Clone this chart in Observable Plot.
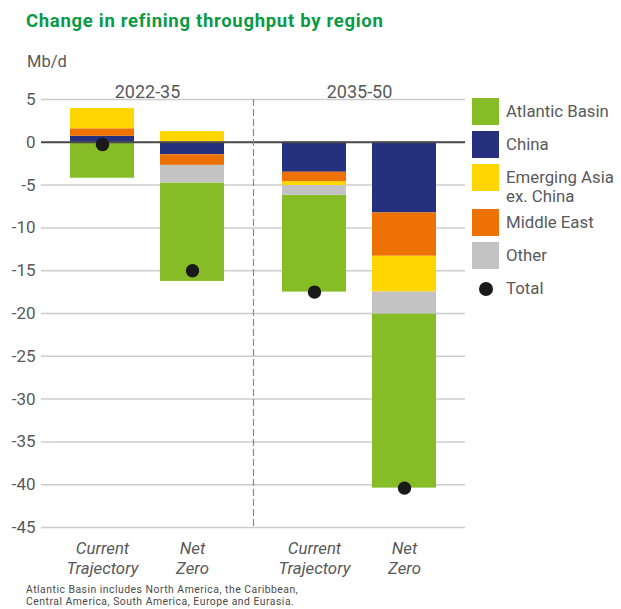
<!DOCTYPE html>
<html>
<head>
<meta charset="utf-8">
<script src="https://cdn.jsdelivr.net/npm/d3@7"></script>
<script src="https://cdn.jsdelivr.net/npm/@observablehq/plot@0.6"></script>
<style>
  html, body { margin: 0; padding: 0; background: #fff; }
  #wrap { position: relative; width: 621px; height: 609px; overflow: hidden; font-family: Roboto, "Noto Sans", sans-serif; color: #58595b; }
  #title { position: absolute; left: 26px; top: 10.5px; font: 700 18.5px Roboto, sans-serif; letter-spacing: 0.7px; line-height: 20px; color: #0a9a46; white-space: nowrap; }
  #unit { position: absolute; left: 27px; top: 52px; font: 400 16.5px Roboto, sans-serif; line-height: 20px; color: #58595b; }
  #chart { position: absolute; left: 0; top: 70px; }
  #legend { position: absolute; left: 472px; top: 0; width: 160px; }
  .lg-item { position: absolute; left: 0; display: flex; align-items: flex-start; white-space: nowrap; }
  .lg-sw { width: 27px; height: 27px; flex: none; }
  .lg-dot { width: 14px; height: 14px; border-radius: 50%; margin: 6.5px 6.5px; flex: none; }
  .lg-text { margin-left: 7px; font: 400 16.8px Roboto, sans-serif; line-height: 19px; padding-top: 4px; color: #58595b; }
  #note { position: absolute; left: 26px; top: 584px; font: 400 10.4px Roboto, sans-serif; letter-spacing: 0.5px; line-height: 12.3px; color: #4a4a4a; white-space: nowrap; }
  #chart svg g[aria-label="x-axis tick label"] text { font-style: italic; }
</style>
</head>
<body>
<div id="wrap">
  <div id="title">Change in refining throughput by region</div>
  <div id="unit">Mb/d</div>
  <div id="chart"></div>
  <div id="legend"></div>
  <div id="note">Atlantic Basin includes North America, the Caribbean,<br>Central America, South America, Europe and Eurasia.</div>
</div>
<script>
// ---- data ----
const periods   = ["2022-35", "2022-35", "2035-50", "2035-50"];
const scenarios = ["Current\nTrajectory", "Net\nZero", "Current\nTrajectory", "Net\nZero"];
const seriesNames  = ["Atlantic Basin", "China", "Emerging Asia\nex. China", "Middle East", "Other"];
const seriesColors = ["#86bc25", "#25307f", "#ffd600", "#ee7203", "#c3c3c3"];
const atlanticBasin = [-4.2, -11.5, -11.3, -20.35];
const china         = [0.7, -1.45, -3.5, -8.25];
const emergingAsia  = [2.4, 1.25, -0.45, -4.2];
const middleEast    = [0.85, -1.25, -1.1, -5.05];
const other         = [0, -2.05, -1.15, -2.55];
const total         = [-0.25, -15.0, -17.5, -40.4];
const yTicks = [5, 0, -5, -10, -15, -20, -25, -30, -35, -40, -45];
const stackOrder = ["China", "Middle East", "Emerging Asia\nex. China", "Other", "Atlantic Basin"];

const seriesValues = [atlanticBasin, china, emergingAsia, middleEast, other];
const rows = [];
periods.forEach((p, i) => {
  seriesNames.forEach((name, j) => {
    rows.push({period: p, scenario: scenarios[i], region: name, value: seriesValues[j][i]});
  });
});
const totals = periods.map((p, i) => ({period: p, scenario: scenarios[i], value: total[i]}));

const textColor = "#58595b";

const chart = Plot.plot({
  width: 621,
  height: 512,
  marginLeft: 40,
  marginRight: 156,
  marginTop: 29,
  marginBottom: 55,
  style: {fontFamily: "Roboto, sans-serif", color: textColor, background: "transparent"},
  fx: {domain: ["2022-35", "2035-50"], padding: 0},
  x: {domain: ["Current\nTrajectory", "Net\nZero"], paddingInner: 0.2857, paddingOuter: 0.31},
  y: {domain: [-45, 5]},
  color: {domain: seriesNames, range: seriesColors},
  marks: [
    Plot.gridY(yTicks, {stroke: "#cccccc", strokeOpacity: 1, strokeWidth: 1.5}),
    Plot.barY(rows, Plot.stackY({
      fx: "period", x: "scenario", y: "value", fill: "region", order: stackOrder
    })),
    Plot.ruleY([0], {stroke: "#4a4a4a", strokeWidth: 2}),
    Plot.frame({anchor: "right", facetAnchor: "left", stroke: "#8a8a8a", strokeWidth: 1.2, strokeDasharray: "6,4"}),
    Plot.dot(totals, {fx: "period", x: "scenario", y: "value", r: 6.7, fill: "#1a1a1a"}),
    Plot.axisY(yTicks, {tickSize: 0, tickPadding: 6, tickFormat: d => String(d), label: null, fontSize: 17, fill: textColor}),
    Plot.axisX({anchor: "bottom", tickSize: 0, tickPadding: 12, label: null, fontSize: 16.8, lineHeight: 1.2, fill: textColor}),
    Plot.axisFx({anchor: "top", tickSize: 0, tickPadding: 2, label: null, fontSize: 18, fill: textColor})
  ]
});
document.getElementById("chart").appendChild(chart);

// ---- legend ----
const legend = d3.select("#legend");
const legendItems = seriesNames.map((name, i) => ({label: name, color: seriesColors[i], kind: "swatch"}))
  .concat([{label: "Total", color: "#1a1a1a", kind: "dot"}]);
let rowTop = 98;
legendItems.forEach(item => {
  const lines = item.label.split("\n");
  const div = legend.append("div").attr("class", "lg-item").style("top", rowTop + "px");
  div.append("div").attr("class", item.kind === "dot" ? "lg-dot" : "lg-sw").style("background", item.color);
  const t = div.append("div").attr("class", "lg-text");
  lines.forEach((l, k) => { if (k) t.append("br"); t.append("span").text(l); });
  rowTop += 33 + (lines.length - 1) * 12;
});
</script>
</body>
</html>
